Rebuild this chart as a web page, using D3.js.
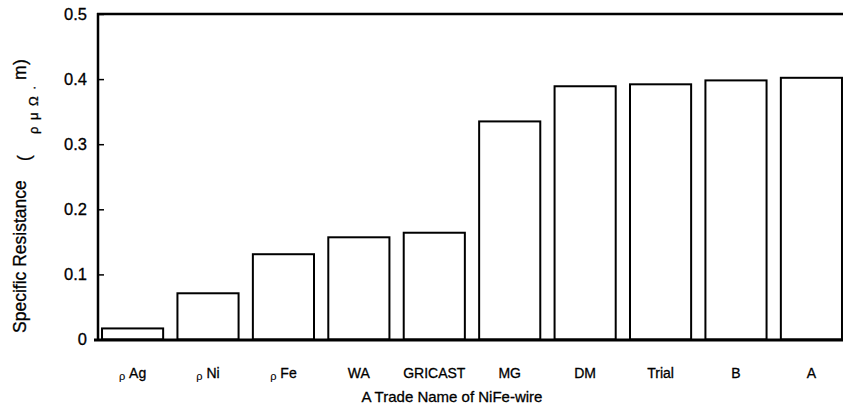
<!DOCTYPE html>
<html>
<head>
<meta charset="utf-8">
<script src="https://cdn.jsdelivr.net/npm/d3@7"></script>
<style>
  html, body { margin: 0; padding: 0; background: #fff; }
  svg { display: block; font-family: "Liberation Sans", Arial, Helvetica, sans-serif; }
  .txt { stroke: #000; stroke-width: 0.3px; }
</style>
</head>
<body>
<svg id="chart" width="843" height="409"></svg>
<script>
// ---- data ----
const categories = ["Ag", "Ni", "Fe", "WA", "GRICAST", "MG", "DM", "Trial", "B", "A"];
const rhoPrefix = [true, true, true, false, false, false, false, false, false, false];
const resistance = [0.017, 0.071, 0.131, 0.157, 0.164, 0.335, 0.389, 0.392, 0.398, 0.402];
const yTicks = [0, 0.1, 0.2, 0.3, 0.4, 0.5];
const xTitle = "A Trade Name of NiFe-wire";
const yTitle = "Specific Resistance";
const unitParts = ["(", "ρ", "μ", "Ω", "·", "m", ")"];

// ---- layout ----
(function () {
const svg = d3.select("#chart");
const mLeft = 98, mRight = 846, mTop = 14, mBottom = 339.5;

const x = d3.scaleBand()
  .domain(categories)
  .range([mLeft, mRight])
  .paddingInner(0.163)
  .paddingOuter(0.04);

const y = d3.scaleLinear().domain([0, 0.5]).range([mBottom, mTop]);

// bars
svg.append("g").selectAll("rect")
  .data(categories)
  .enter().append("rect")
  .attr("x", d => x(d) + 1)
  .attr("y", (d, i) => y(resistance[i]))
  .attr("width", x.bandwidth() - 2)
  .attr("height", (d, i) => mBottom - y(resistance[i]))
  .attr("fill", "#fff")
  .attr("stroke", "#000")
  .attr("stroke-width", 2);

// y axis (ticks inward)
const yAxis = d3.axisRight(y)
  .tickValues(yTicks)
  .tickSize(6)
  .tickFormat(d => d === 0 ? "0" : d3.format(".1f")(d));
const gy = svg.append("g").attr("transform", `translate(${mLeft},0)`).call(yAxis);
gy.select(".domain").remove();
gy.selectAll(".tick line").attr("stroke", "#000").attr("stroke-width", 1.5);
gy.selectAll(".tick text")
  .attr("class", "txt")
  .attr("x", -11)
  .attr("text-anchor", "end")
  .attr("font-size", 16.5)
  .attr("font-family", "Liberation Sans, Arial, sans-serif")
  .attr("fill", "#000");

// frame lines: left axis, top line, baseline
svg.append("line").attr("x1", mLeft).attr("x2", mLeft).attr("y1", mTop - 1).attr("y2", mBottom + 1.5)
  .attr("stroke", "#000").attr("stroke-width", 2.5);
svg.append("line").attr("x1", mLeft - 1).attr("x2", 843).attr("y1", mTop).attr("y2", mTop)
  .attr("stroke", "#000").attr("stroke-width", 2.5);
svg.append("line").attr("x1", mLeft - 4).attr("x2", 843).attr("y1", mBottom + 0.5).attr("y2", mBottom + 0.5)
  .attr("stroke", "#000").attr("stroke-width", 3);

// x axis labels
const xAxis = d3.axisBottom(x).tickSize(0).tickFormat("");
const gx = svg.append("g").attr("transform", `translate(0,${mBottom})`).call(xAxis);
gx.select(".domain").remove();
gx.selectAll(".tick").each(function(d, i) {
  const t = d3.select(this).append("text")
    .attr("class", "txt")
    .attr("y", 38)
    .attr("text-anchor", "middle")
    .attr("font-size", 14)
    .attr("fill", "#000");
  if (rhoPrefix[i]) {
    t.append("tspan").attr("font-size", 11).attr("stroke-width", 0.1).attr("dy", 2).text("ρ");
    t.append("tspan").attr("dy", -2).text(" " + d);
  } else {
    t.text(d);
  }
});

// x title
svg.append("text")
  .attr("class", "txt")
  .attr("x", 452)
  .attr("y", 402)
  .attr("text-anchor", "middle")
  .attr("font-size", 15)
  .attr("fill", "#000")
  .text(xTitle);

// y title (rotated)
const yt = svg.append("text")
  .attr("class", "txt")
  .attr("transform", "translate(26,333) rotate(-90)")
  .attr("text-anchor", "start")
  .attr("font-size", 17.5)
  .attr("fill", "#000");
yt.append("tspan").attr("x", 0).text(yTitle);
// unit "(ρ μΩ·m)" with spread, lowered Greek letters
const unitX = [172, 199, 213, 227, 243, 253, 268];
const unitDy = [4, 8, 0, 0, 0, -12, 0];
const unitSize = [17.5, 13, 13, 13, 13, 17.5, 17.5];
unitParts.forEach((p, k) => {
  yt.append("tspan")
    .attr("x", unitX[k])
    .attr("dy", unitDy[k])
    .attr("font-size", unitSize[k])
    .text(p);
});
})();
</script>
</body>
</html>
